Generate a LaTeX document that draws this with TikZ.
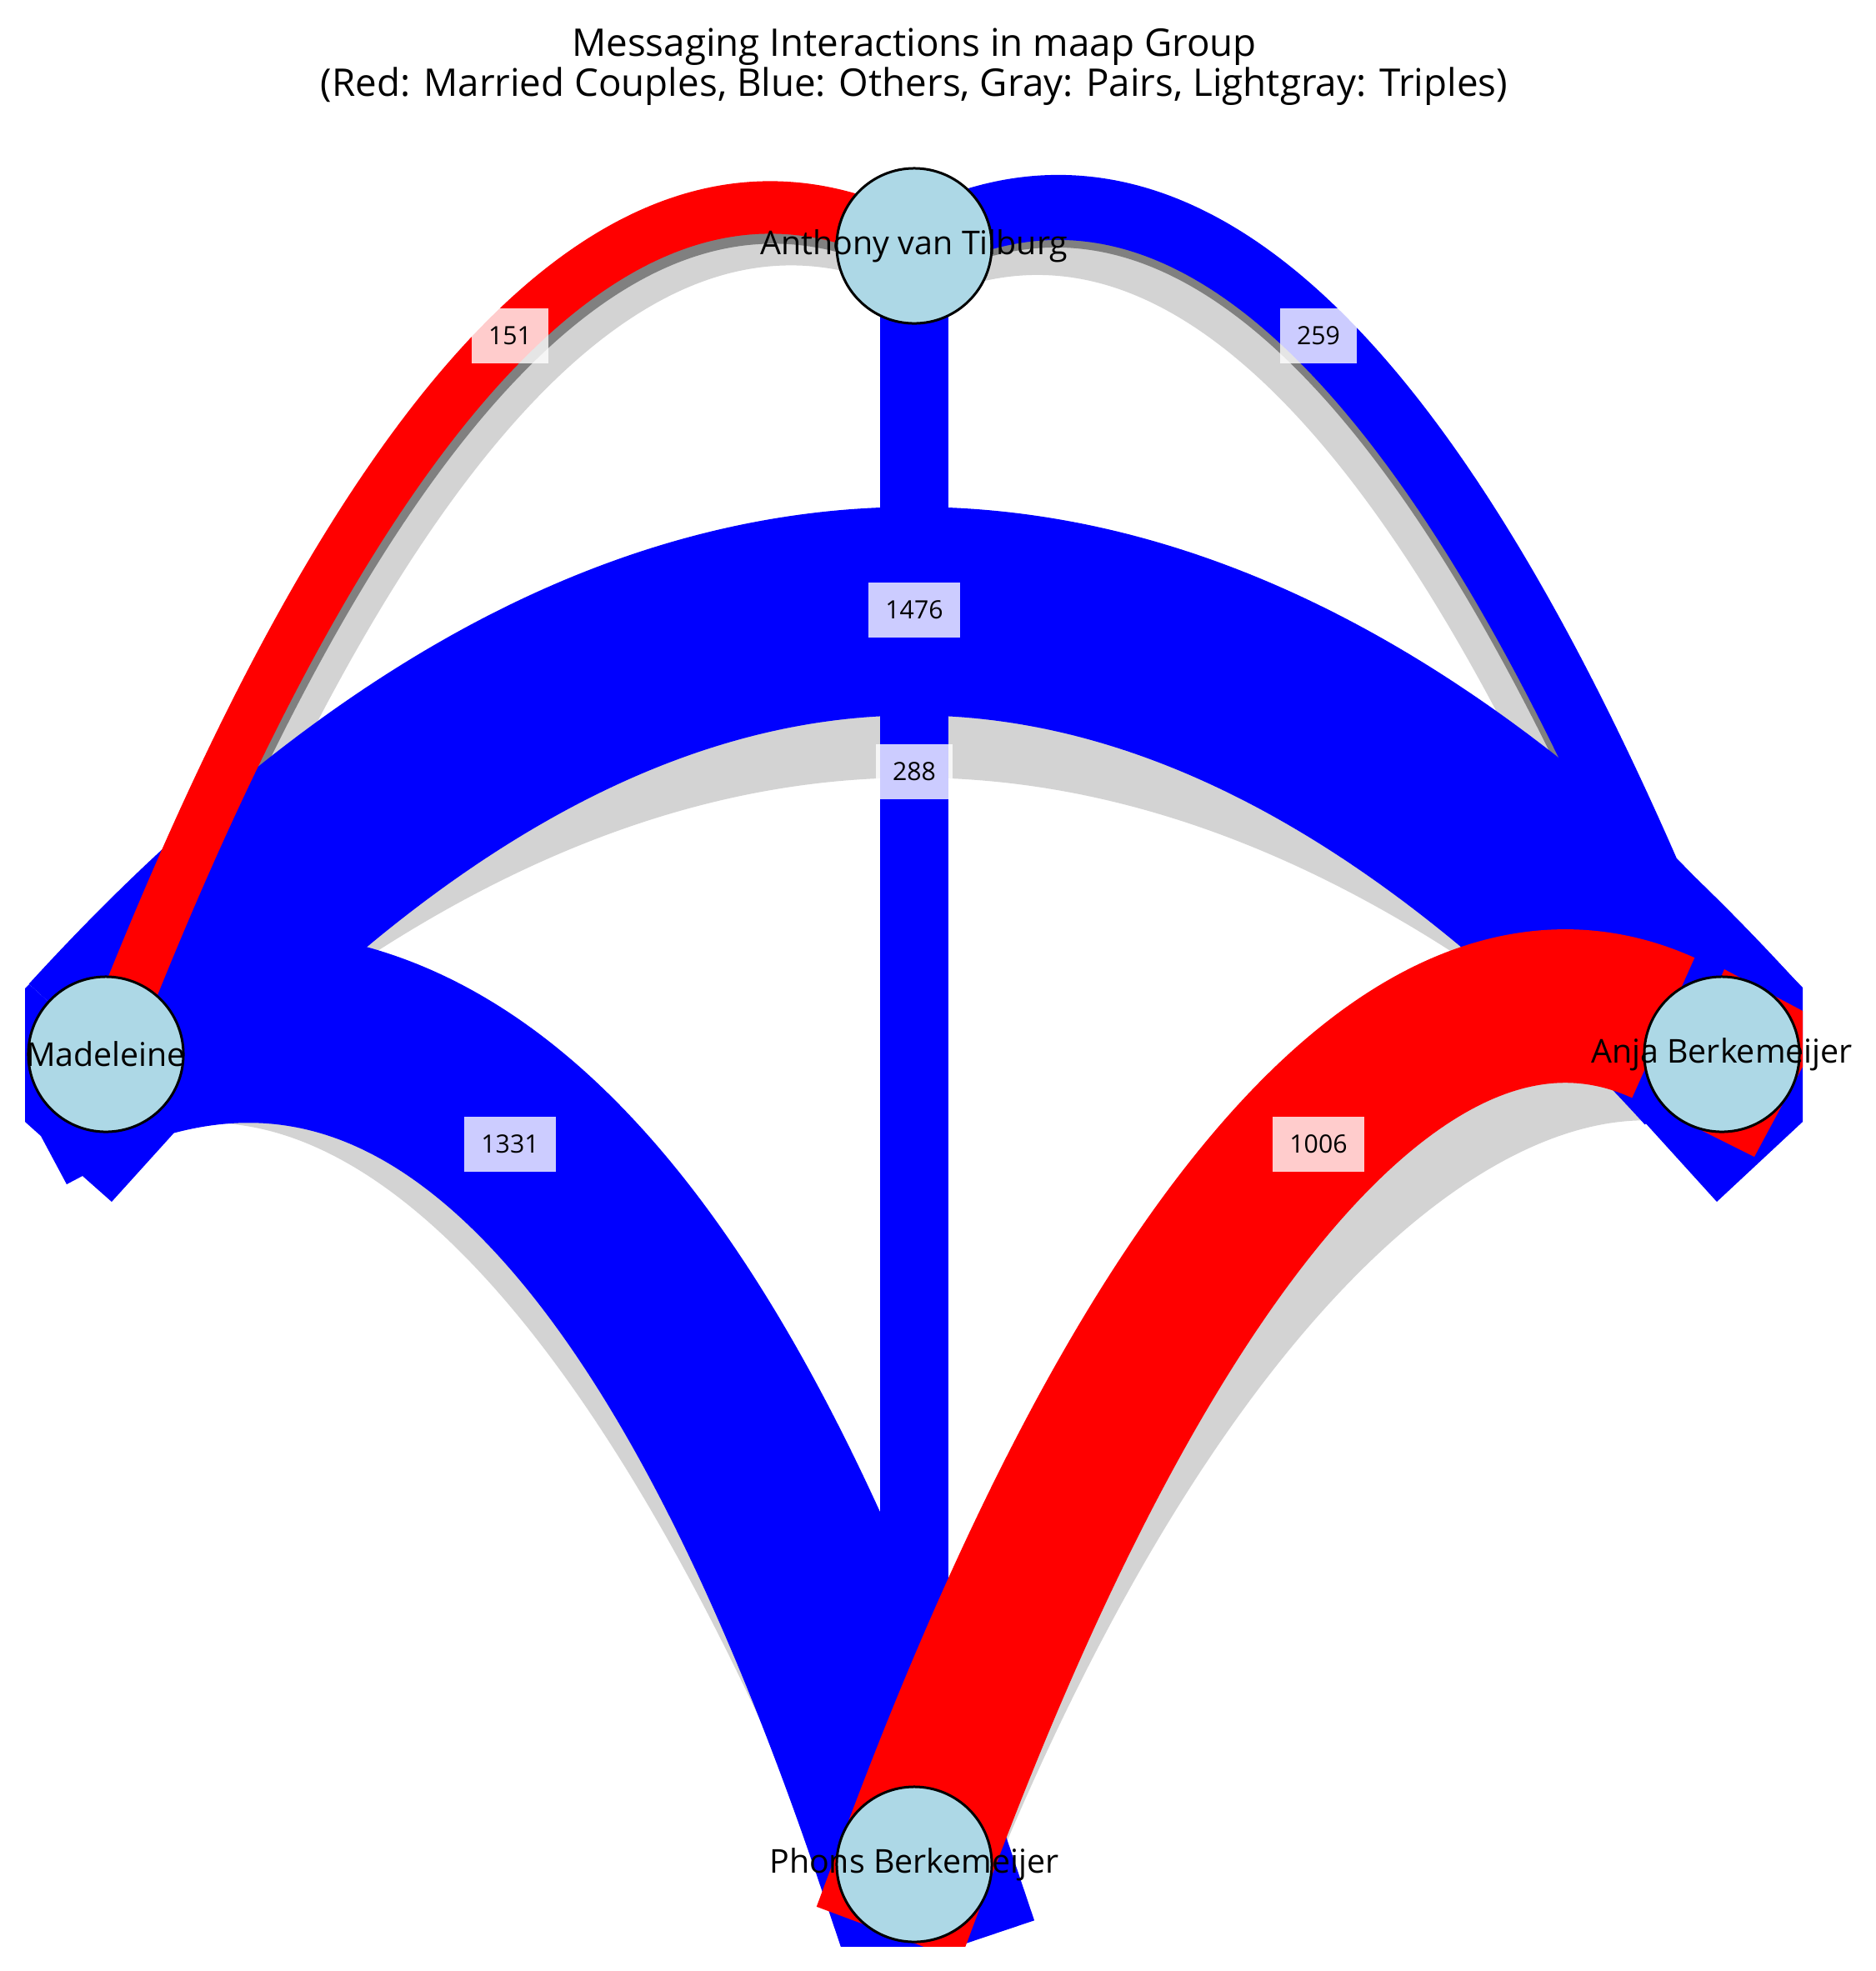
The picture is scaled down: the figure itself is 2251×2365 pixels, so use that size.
\documentclass[tikz,border=0pt]{standalone}
\usepackage{fontspec}
\setmainfont{Open Sans}
\usetikzlibrary{calc,backgrounds}
\definecolor{nodefill}{RGB}{173,216,230}
\definecolor{lgray}{RGB}{211,211,211}
\definecolor{dgray}{RGB}{128,128,128}

\begin{document}
\begin{tikzpicture}[x=0.01cm, y=-0.01cm,
  person/.style={circle, draw=black, line width=0.03cm, fill=nodefill,
                 minimum size=1.86cm, inner sep=0pt},
  who/.style={font=\fontsize{11.2}{13}\selectfont, inner sep=0pt},
  wlabel/.style={fill=white, fill opacity=0.8, text opacity=1,
                 font=\fontsize{8.6}{10}\selectfont, inner xsep=0.2cm,
                 inner ysep=0pt, minimum height=0.66cm},
  heading/.style={font=\fontsize{13}{15}\selectfont, inner sep=0pt},
  couple/.style={draw=red, line width=#1},
  other/.style={draw=blue, line width=#1},
  pair/.style={draw=dgray, line width=#1},
  triple/.style={draw=lgray, line width=#1}]

\useasboundingbox (0,0) rectangle (2251,2365);

% --- people
\node[person, label={[who]center:Anthony van Tilburg}] (ant) at (1097,295) {};
\node[person, label={[who]center:Madeleine}] (mad) at (127,1265) {};
\node[person, label={[who]center:Anja Berkemeijer}] (anj) at (2066,1265) {};
\node[person, label={[who]center:Phons Berkemeijer}] (pho) at (1097,2237) {};

\begin{scope}[on background layer]
\clip (30,198) rectangle (2163,2335);
% --- triples (light gray, underneath)
\draw[triple=0.63cm] ([shift={(25,38)}]mad.center) .. controls (470,481) and (793,158) .. ([shift={(25,38)}]ant.center);
\draw[triple=0.78cm] ([shift={(-25,42)}]ant.center) .. controls (1401,162) and (1724,485) .. ([shift={(-25,42)}]anj.center);
\draw[triple=2cm] (mad.center) .. controls (774,689) and (1420,689) .. (anj.center);
\draw[triple=2cm] (mad.center) .. controls (466,1164) and (790,1488) .. (pho.center);
\draw[triple=1.84cm] (anj.center) .. controls (1799,1188) and (1416,1452) .. (pho.center);
% --- pairs (gray)
\draw[pair=0.63cm] ([shift={(4,12)}]mad.center) .. controls (449,455) and (772,132) .. ([shift={(4,12)}]ant.center);
\draw[pair=0.78cm] ([shift={(-3,9)}]ant.center) .. controls (1423,129) and (1746,452) .. ([shift={(-3,9)}]anj.center);
% --- others (blue)
\draw[other=2.5cm] (mad.center) .. controls (774,556) and (1420,556) .. (anj.center);
\draw[other=2.3cm] (mad.center) .. controls (509,1122) and (832,1446) .. (pho.center) -- ++(35,104);
\draw[other=0.82cm] (ant.center) -- (pho.center);
\draw[other=0.78cm] (ant.center) .. controls (1426,120) and (1749,443) .. (anj.center);
\fill[blue] (35,1181) -- (30,1186) -- (30,1346) -- (49,1363) -- (80,1421)
  -- (99,1411) -- (134,1442) -- (219,1348) -- cycle;
\fill[blue] (2012,1030) -- (2163,1185) -- (2163,1346) -- (2060,1442)
  -- (1943,1313) -- (1990,1200) -- cycle;
% --- married couples (red)
\draw[couple=0.63cm] (mad.center) .. controls (445,443) and (768,120) .. (ant.center);
\draw[couple=1.84cm, shorten <=0.77cm] (anj.center) .. controls (1719,1108) and (1396,1432) .. (pho.center) -- ++(-31,83);
\fill[red] (2069,1163) -- (2163,1213) -- (2163,1280) -- (2105,1388)
  -- (2043,1357) -- (2010,1300) -- cycle;
\end{scope}

% --- message counts
\node[wlabel] (w151) at (612,403) {151};
\node[wlabel] (w259) at (1582,403) {259};
\node[wlabel] (w1476) at (1097,732) {1476};
\node[wlabel] (w288) at (1097,926) {288};
\node[wlabel] (w1331) at (612,1373) {1331};
\node[wlabel] (w1006) at (1582,1373) {1006};

% --- title
\node[heading, anchor=base] (title) at (1097,67) {Messaging Interactions in maap Group};
\node[heading, anchor=base] (legend) at (1097,115)
  {(Red: Married Couples, Blue: Others, Gray: Pairs, Lightgray: Triples)};
\end{tikzpicture}
\end{document}
